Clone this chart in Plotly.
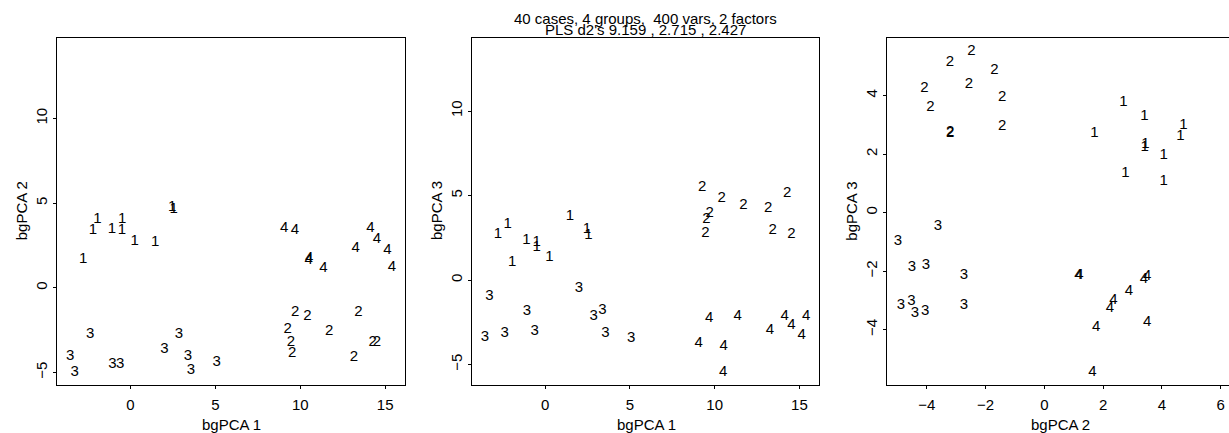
import plotly.graph_objects as go

# Group membership of the 40 cases
groups = ["1"] * 10 + ["2"] * 10 + ["3"] * 10 + ["4"] * 10

# Between-group PCA scores for each case
pc1 = [1.46, -2.21, -2.78, 2.46, 2.55, -1.10, -0.50, -0.49, -1.94, 0.25,
       9.26, 10.42, 11.70, 13.16, 14.27, 9.70, 9.52, 9.45, 13.42, 14.52,
       -3.28, -1.07, -3.55, -2.38, -0.61, 2.00, 2.86, 3.38, 3.56, 5.08,
       9.68, 11.36, 14.13, 15.40, 14.52, 13.26, 15.13, 9.05, 10.53, 10.50]
pc2 = [2.69, 3.40, 1.70, 4.73, 4.63, 3.44, 3.41, 4.06, 4.06, 2.76,
       -2.48, -1.70, -2.56, -4.08, -3.21, -1.43, -3.87, -3.20, -1.43, -3.20,
       -4.98, -4.50, -4.05, -2.73, -4.52, -3.62, -2.73, -4.03, -4.88, -4.40,
       3.39, 1.16, 3.50, 1.19, 2.88, 2.35, 2.23, 3.50, 1.76, 1.64]
pc3 = [3.79, 3.30, 2.71, 3.00, 2.63, 2.34, 2.22, 1.96, 1.07, 1.35,
       5.51, 4.86, 4.40, 4.27, 5.16, 3.95, 3.62, 2.75, 2.94, 2.72,
       -0.99, -1.86, -3.38, -3.17, -3.04, -0.46, -2.15, -1.81, -3.17, -3.44,
       -2.27, -2.15, -2.16, -2.15, -2.68, -3.00, -3.26, -3.76, -3.93, -5.47]

title_lines = ["40 cases, 4 groups,\u00a0 400 vars, 2 factors",
               "PLS d2's 9.159 , 2.715 , 2.427"]

W, H = 1229, 433
FONT = "Liberation Sans, Arial, Helvetica, sans-serif"
FS = 15


def px(x):
    return x / W


def py(y):
    return (H - y) / H


y_dom = [py(384.6), py(37.5)]
panels = [
    dict(x=pc1, y=pc2, dom=[px(57.3), px(405.0)], xr=[-4.31, 16.17], yr=[-5.72, 14.78],
         xt=[0, 5, 10, 15], yt=[-5, 0, 5, 10], xl="bgPCA 1", yl="bgPCA 2", right=True),
    dict(x=pc1, y=pc3, dom=[px(472.0), px(819.3)], xr=[-4.31, 16.17], yr=[-6.19, 14.35],
         xt=[0, 5, 10, 15], yt=[-5, 0, 5, 10], xl="bgPCA 1", yl="bgPCA 3", right=True),
    dict(x=pc2, y=pc3, dom=[px(886.7), 1.0], xr=[-5.36, 6.28], yr=[-5.88, 5.99],
         xt=[-4, -2, 0, 2, 4, 6], yt=[-4, -2, 0, 2, 4], xl="bgPCA 2", yl="bgPCA 3", right=False),
]

fig = go.Figure()
annotations = []
for i, p in enumerate(panels, start=1):
    sfx = "" if i == 1 else str(i)
    fig.add_trace(go.Scatter(
        x=p["x"], y=p["y"], text=groups, mode="text",
        textposition="middle center",
        textfont=dict(family=FONT, size=FS, color="black"),
        xaxis="x" + sfx, yaxis="y" + sfx, showlegend=False, hoverinfo="skip",
    ))
    axis_common = dict(showgrid=False, zeroline=False, showline=True,
                       linecolor="black", linewidth=1, ticks="outside",
                       ticklen=3, tickcolor="black", tickwidth=1,
                       tickfont=dict(family=FONT, size=FS, color="black"))
    fig.update_layout(**{
        "xaxis" + sfx: dict(domain=p["dom"], range=p["xr"], tickvals=p["xt"],
                            anchor="y" + sfx, mirror=True, ticklabelstandoff=3,
                            **axis_common),
        "yaxis" + sfx: dict(domain=y_dom, range=p["yr"], tickvals=p["yt"],
                            anchor="x" + sfx, mirror=p["right"], tickangle=-90,
                            **axis_common),
    })
    left_px = p["dom"][0] * W
    right_px = left_px + 348.0
    annotations.append(dict(text=p["xl"], x=px((left_px + right_px) / 2), y=py(424.3),
                            xref="paper", yref="paper", showarrow=False,
                            xanchor="center", yanchor="middle",
                            font=dict(family=FONT, size=FS, color="black")))
    annotations.append(dict(text=p["yl"], x=px(left_px - 36.0), y=py(211.0),
                            xref="paper", yref="paper", showarrow=False,
                            textangle=-90, xanchor="center", yanchor="middle",
                            font=dict(family=FONT, size=FS, color="black")))

for line, yc in zip(title_lines, [18.3, 29.3]):
    annotations.append(dict(text=line, x=px(645.7), y=py(yc), xref="paper", yref="paper",
                            showarrow=False, xanchor="center", yanchor="middle",
                            font=dict(family=FONT, size=FS, color="black")))

fig.update_layout(width=W, height=H, margin=dict(l=0, r=0, t=0, b=0),
                  paper_bgcolor="white", plot_bgcolor="white",
                  annotations=annotations, showlegend=False)

fig.write_html("out.html")
